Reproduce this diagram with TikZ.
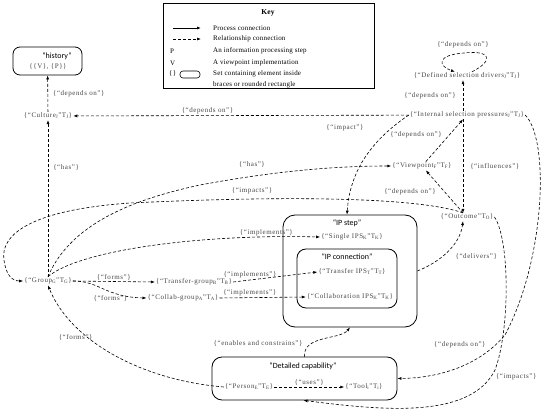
\documentclass[tikz,border=0pt]{standalone}
\usepackage{fontspec}
\setmainfont{Liberation Serif}
\newfontfamily\titlefont{Carlito}
\newfontfamily\lblfont[LetterSpace=8]{Liberation Serif}
\newfontfamily\keyfont[LetterSpace=3]{Liberation Serif}
\usepackage{tikz}
\usetikzlibrary{arrows.meta,positioning,calc}
\definecolor{labelGrey}{RGB}{70,70,70}

\begin{document}
\begin{tikzpicture}[x=1pt,y=-1pt,
  lbl/.style={font=\lblfont\fontsize{7}{8}\selectfont,text=labelGrey,inner sep=1pt},
  keytxt/.style={font=\keyfont\fontsize{7}{8}\selectfont,anchor=west,inner sep=0pt},
  setbox/.style={draw,thick,rounded corners=7pt,align=center},
  ttl/.style={font=\titlefont\fontsize{8}{9}\selectfont,inner sep=1pt},
  rel/.style={-{Latex[length=4pt,width=3pt]},densely dashed,semithick},
  proc/.style={-{Latex[length=4pt,width=3pt]},thick}
]
  \useasboundingbox (0,0) rectangle (550,420);

  % key
  \node[draw,thick,minimum width=211pt,minimum height=85pt,inner sep=0pt] (key) at (268.5,45.5) {};
  \node[font=\keyfont\fontsize{7.5}{8}\selectfont\bfseries] (keyttl) at (268,13) {Key};
  \coordinate (kpa) at (173,28); \coordinate (kpb) at (201,28);
  \coordinate (kra) at (173,39); \coordinate (krb) at (201,39);
  \draw[proc] (kpa) -- (kpb);
  \draw[rel] (kra) -- (krb);
  \node[keytxt] (kproc) at (213,28) {Process connection};
  \node[keytxt] (krel) at (213,39) {Relationship connection};
  \node[keytxt] (kp) at (170,51) {P};
  \node[keytxt] (kpt) at (213,51) {An information processing step};
  \node[keytxt] (kv) at (170,63) {V};
  \node[keytxt] (kvt) at (213,63) {A viewpoint implementation};
  \node[keytxt] (kb) at (169,74) {\{\}};
  \node[draw,semithick,rounded corners=3pt,minimum width=20pt,minimum height=7pt,inner sep=0pt] (krr) at (190,74.5) {};
  \node[keytxt] (kst) at (213,74) {Set containing element inside};
  \node[keytxt] (kst2) at (213,85) {braces or rounded rectangle};

  % set boxes
  \node[setbox,minimum width=69pt,minimum height=28pt] (hist) at (47.5,61) {};
  \node[ttl] (histttl) at (57,56) {“history”};
  \node[lbl] (histset) at (48,67) {\{\{V\}, \{P\}\}};
  \node[setbox,minimum width=134pt,minimum height=112pt,rounded corners=12pt] (ipstep) at (350,271) {};
  \node[setbox,minimum width=100pt,minimum height=59pt,rounded corners=9pt] (ipconn) at (347,278.5) {};
  \node[setbox,minimum width=185pt,minimum height=43pt,rounded corners=10pt] (dcap) at (304.5,378.5) {};
  \node[ttl] (ipstepttl) at (347,223) {“IP step”};
  \node[ttl] (ipconnttl) at (347,257) {“IP connection”};
  \node[ttl] (dcapttl) at (303,366) {“Detailed capability”};

  % elements
  \node[lbl] (cult) at (48,116) {\{“Culture\textsubscript{J}”T\textsubscript{J}\}};
  \node[lbl] (grp) at (48,281) {\{“Group\textsubscript{G}”T\textsubscript{G}\}};
  \node[lbl] (tgrp) at (194,282) {\{“Transfer-group\textsubscript{B}”T\textsubscript{B}\}};
  \node[lbl] (cgrp) at (183,298) {\{“Collab-group\textsubscript{A}”T\textsubscript{A}\}};
  \node[lbl] (single) at (352,237) {\{“Single IPS\textsubscript{K}”T\textsubscript{K}\}};
  \node[lbl] (transfer) at (352,272) {\{“Transfer IPS\textsubscript{T}”T\textsubscript{T}\}};
  \node[lbl] (collab) at (350,297) {\{“Collaboration IPS\textsubscript{K}”T\textsubscript{K}\}};
  \node[lbl] (outc) at (467,217) {\{“Outcome”T\textsubscript{O}\}};
  \node[lbl] (view) at (422,166) {\{“Viewpoint\textsubscript{F}”T\textsubscript{F}\}};
  \node[lbl] (intsel) at (467,115) {\{“Internal selection pressures\textsubscript{J}”T\textsubscript{J}\}};
  \node[lbl] (defsel) at (467,76) {\{“Defined selection drivers\textsubscript{J}”T\textsubscript{J}\}};
  \node[lbl] (person) at (249,387) {\{“Person\textsubscript{E}”T\textsubscript{E}\}};
  \node[lbl] (tool) at (364,387) {\{“Tool\textsubscript{i}”T\textsubscript{i}\}};

  % relationships
  \draw[rel] (cult) -- node[lbl,right=4pt]{\{“depends on”\}} (hist);
  \draw[rel] (grp) -- node[lbl,right=4pt,pos=0.7]{\{“has”\}} (cult);
  \draw[rel] (intsel) -- node[lbl,above,pos=0.6]{\{“depends on”\}} (cult);
  \draw[rel] ([xshift=5pt]defsel.north) .. controls (495,60) and (490,50) .. (464,53)
    .. controls (436,55) and (438,66) .. ([xshift=-12pt]defsel.north);
  \node[lbl] (looplbl) at (463,45) {\{“depends on”\}};
  \draw[rel] ([xshift=-4pt]intsel.north) -- node[lbl,left=6pt]{\{“depends on”\}} ([xshift=-4pt]defsel.south);
  \draw[rel] (view) -- node[lbl,above left=2pt]{\{“depends on”\}} ([xshift=-4pt]intsel.south);
  \draw[rel] ([xshift=-4pt]intsel.south) -- node[lbl,right=6pt,pos=0.5]{\{“influences”\}} ([xshift=-4pt]outc.north);
  \draw[rel] ([xshift=-4pt]outc.north) -- (view);
  \draw[rel] (intsel.west) .. controls (372,140) and (350,170) .. (ipstep.north -| ipstepttl);
  \node[lbl] (impactlbl) at (345,128) {\{“impact”\}};
  \draw[rel] (grp.north) .. controls (70,225) and (130,200) .. (200,185) .. controls (270,172) and (330,166) .. (view.west);
  \node[lbl] (haslbl) at (252,165) {\{“has”\}};
  \draw[rel] ([xshift=-4pt]outc.north) .. controls (420,198) and (300,195) .. (130,203) .. controls (30,210) and (0,235) .. (4,260) .. controls (6,275) and (12,281) .. (grp.west);
  \node[lbl] (impactslbl) at (252,191) {\{“impacts”\}};
  \node[lbl] (dependslbl) at (410,192) {\{“depends on”\}};
  \draw[rel] (grp.north) .. controls (80,250) and (200,234) .. node[lbl,above,pos=0.85]{\{“implements”\}} (single.west);
  \draw[rel] (grp.east) -- node[lbl,above]{\{“forms”\}} (tgrp.west);
  \draw[rel] (grp.east) .. controls (100,281) and (105,297) .. node[lbl,below=3pt,pos=0.6]{\{“forms”\}} (cgrp.west);
  \draw[rel] (tgrp.east) -- node[lbl,above=1pt,pos=0.2]{\{“implements”\}} (transfer.west);
  \draw[rel] (cgrp.east) -- node[lbl,above,pos=0.35]{\{“implements”\}} (collab.west);
  \draw[rel] (ipstep.east) .. controls (440,262) and (460,245) .. node[lbl,right=12pt,pos=0.4]{\{“delivers”\}} ([xshift=-4pt]outc.south);
  \draw[rel] (dcap.north) .. controls (303,335) and (340,340) .. node[lbl,left=8pt,pos=0.3]{\{“enables and constrains”\}} (ipstep.south);
  \draw[rel] (intsel.east) .. controls (550,140) and (545,260) .. (505,335) .. controls (480,365) and (440,378) .. node[lbl,above left=2pt,pos=0.2]{\{“depends on”\}} (dcap.east);
  \draw[rel] (outc.east) .. controls (510,240) and (510,330) .. (495,370) .. controls (470,420) and (380,410) .. node[lbl,right=4pt,pos=0.05]{\{“impacts”\}} ([xshift=-1pt]dcap.south);
  \draw[rel] (person) -- node[lbl,above]{\{“uses”\}} (tool);
  \draw[rel] (person.west) .. controls (140,380) and (70,340) .. node[lbl,above left=2pt,pos=0.6]{\{“forms”\}} (grp.south);
\end{tikzpicture}
\end{document}
